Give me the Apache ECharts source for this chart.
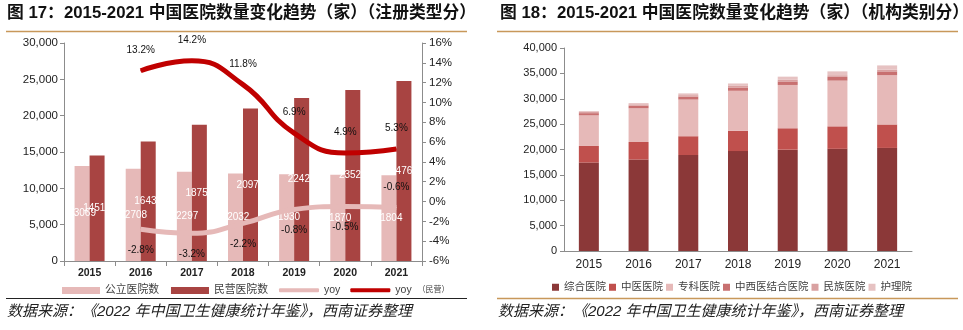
<!DOCTYPE html>
<html><head><meta charset="utf-8">
<script src="https://cdn.jsdelivr.net/npm/echarts@6/dist/echarts.min.js"></script>
<style>html,body{margin:0;padding:0;background:#fff}#c{width:963px;height:330px}</style>
</head><body><div id="c"></div>
<script>
// ---- data ----
const years = ['2015','2016','2017','2018','2019','2020','2021'];
const publicHosp = [13069,12708,12297,12032,11930,11870,11804];
const privateHosp = [14518,16432,18759,20977,22424,23524,24766];
const publicYoy = [null,-2.8,-3.2,-2.2,-0.8,-0.5,-0.6];
const privateYoy = [null,13.2,14.2,11.8,6.9,4.9,5.3];
const publicYoyLabelSide = ['bottom','bottom','bottom','bottom','bottom','bottom','top'];
const general = [17430,18020,18921,19693,19963,20133,20307];
const tcm = [3267,3462,3695,3977,4221,4426,4630];
const specialized = [6023,6642,7220,7900,8531,9021,9699];
const integrated = [446,510,587,650,699,732,756];
const ethnic = [253,266,284,312,312,324,329];
const nursing = [168,240,349,477,628,758,849];
const leftCountTicks = [0,5000,10000,15000,20000,25000,30000];
const leftPctTicks = [-6,-4,-2,0,2,4,6,8,10,12,14,16];
const rightCountTicks = [0,5000,10000,15000,20000,25000,30000,35000,40000];

const FF = '"Liberation Sans", Arial, "Noto Sans CJK SC", sans-serif';
const CJK = '"Liberation Sans", "Noto Sans CJK SC", sans-serif';
const fmtNum = v => String(v).replace(/\B(?=(\d{3})+(?!\d))/g, ',');
const axisLineStyle = {lineStyle:{color:'#8c8c8c', width:1}};

const chart = echarts.init(document.getElementById('c'), null, {renderer:'canvas'});
const barLabel = {show:true, position:'inside', color:'#fff', fontSize:10, fontFamily:FF};
const stackNames = ['综合医院','中医医院','专科医院','中西医结合医院','民族医院','护理院'];
const stackData = [general, tcm, specialized, integrated, ethnic, nursing];
const stackColors = ['#8B3838','#C0504D','#E6B9B8','#C87070','#D9A1A1','#E6C2C2'];

const option = {
  animation:false,
  textStyle:{fontFamily:FF},
  grid:[
    {left:64, right:541, top:43, bottom:69, containLabel:false},
    {left:564, right:51, top:48, bottom:79, containLabel:false}
  ],
  xAxis:[
    {type:'category', gridIndex:0, data:years, boundaryGap:true,
     axisLine:axisLineStyle, axisTick:{show:true, alignWithLabel:false, length:5, lineStyle:{color:'#8c8c8c'}},
     axisLabel:{color:'#222', fontSize:10.5, fontWeight:'bold', margin:7, fontFamily:FF}},
    {type:'category', gridIndex:1, data:years, boundaryGap:true,
     axisLine:axisLineStyle, axisTick:{show:false},
     axisLabel:{color:'#222', fontSize:12, margin:8, fontFamily:FF}}
  ],
  yAxis:[
    {type:'value', gridIndex:0, position:'left', min:leftCountTicks[0], max:leftCountTicks[leftCountTicks.length-1],
     interval:leftCountTicks[1]-leftCountTicks[0], splitLine:{show:false},
     axisLine:{show:true, lineStyle:{color:'#8c8c8c'}}, axisTick:{show:true, length:4, lineStyle:{color:'#8c8c8c'}},
     axisLabel:{color:'#222', fontSize:11.5, margin:6, formatter:v=>fmtNum(v)}},
    {type:'value', gridIndex:0, position:'right', min:leftPctTicks[0], max:leftPctTicks[leftPctTicks.length-1],
     interval:leftPctTicks[1]-leftPctTicks[0], splitLine:{show:false},
     axisLine:{show:true, lineStyle:{color:'#8c8c8c'}}, axisTick:{show:true, length:4, lineStyle:{color:'#8c8c8c'}},
     axisLabel:{color:'#222', fontSize:11.5, margin:7, formatter:'{value}%'}},
    {type:'value', gridIndex:1, position:'left', min:rightCountTicks[0], max:rightCountTicks[rightCountTicks.length-1],
     interval:rightCountTicks[1]-rightCountTicks[0], splitLine:{show:false},
     axisLine:{show:true, lineStyle:{color:'#8c8c8c'}}, axisTick:{show:true, length:4, lineStyle:{color:'#8c8c8c'}},
     axisLabel:{color:'#222', fontSize:11, margin:7, formatter:v=>fmtNum(v)}}
  ],
  legend:[
    {left:57, top:280, itemWidth:38, itemHeight:7, itemGap:12, icon:'rect',
     data:['公立医院数','民营医院数'],
     textStyle:{fontSize:10.8, color:'#404040', fontFamily:CJK}},
    {left:274, top:280, itemWidth:40, itemHeight:4, itemGap:10, icon:'roundRect',
     data:['yoy','yoy（民营）'],
     formatter: n => n === 'yoy（民营）' ? 'yoy  {s|（民营）}' : n,
     textStyle:{fontSize:10.5, color:'#404040', fontFamily:CJK, rich:{s:{fontSize:8, color:'#404040', fontFamily:CJK}}}},
    {left:547, top:277, itemWidth:7, itemHeight:7, itemGap:3, icon:'rect',
     data:stackNames,
     textStyle:{fontSize:10.5, color:'#404040', fontFamily:CJK}}
  ],
  series:[
    {name:'公立医院数', type:'bar', xAxisIndex:0, yAxisIndex:0, data:publicHosp, barWidth:15, barGap:'0%',
     itemStyle:{color:'#E6B9B8'}, label:barLabel, z:2},
    {name:'民营医院数', type:'bar', xAxisIndex:0, yAxisIndex:0, data:privateHosp, barWidth:15, barGap:'0%',
     itemStyle:{color:'#A84442'}, label:barLabel, z:2},
    {name:'yoy', type:'line', xAxisIndex:0, yAxisIndex:1, smooth:true,
     data:publicYoy.map((v,i)=>({value:v, label:{position:publicYoyLabelSide[i]}})),
     symbol:'circle', symbolSize:1, showSymbol:true, connectNulls:false,
     lineStyle:{color:'#E6B9B8', width:5}, itemStyle:{color:'#E6B9B8'},
     label:{show:true, distance:15, color:'#111', fontSize:10, formatter:p=>p.value==null?'':p.value.toFixed(1)+'%'}, z:5},
    {name:'yoy（民营）', type:'line', xAxisIndex:0, yAxisIndex:1, smooth:true, data:privateYoy,
     symbol:'circle', symbolSize:1, showSymbol:true,
     lineStyle:{color:'#C00000', width:5}, itemStyle:{color:'#C00000'},
     label:{show:true, position:'top', distance:15, color:'#111', fontSize:10, formatter:p=>p.value==null?'':p.value.toFixed(1)+'%'}, z:5}
  ].concat(stackNames.map((n,i)=>({
     name:n, type:'bar', xAxisIndex:1, yAxisIndex:2, stack:'total', data:stackData[i], barWidth:20,
     itemStyle:{color:stackColors[i]}
  }))),
  graphic:[
    {type:'text', left:7, top:5, style:{text:'图 17：2015-2021 中国医院数量变化趋势（家）（注册类型分）', font:'bold 16.8px '+CJK, fill:'#111'}},
    {type:'text', left:500, top:5, style:{text:'图 18：2015-2021 中国医院数量变化趋势（家）（机构类别分）', font:'bold 16.8px '+CJK, fill:'#111'}},
    {type:'line', shape:{x1:6, y1:31.5, x2:467, y2:31.5}, style:{stroke:'#C8985A', lineWidth:1.5}},
    {type:'line', shape:{x1:497, y1:31.5, x2:958, y2:31.5}, style:{stroke:'#C8985A', lineWidth:1.5}},
    {type:'line', shape:{x1:6, y1:298.5, x2:467, y2:298.5}, style:{stroke:'#222', lineWidth:1.2}},
    {type:'line', shape:{x1:497, y1:298.5, x2:958, y2:298.5}, style:{stroke:'#C8985A', lineWidth:1.5}},
    {type:'text', left:7, top:304, style:{text:'数据来源：《2022 年中国卫生健康统计年鉴》，西南证券整理', font:'italic 15px '+CJK, fill:'#222'}},
    {type:'text', left:498, top:304, style:{text:'数据来源：《2022 年中国卫生健康统计年鉴》，西南证券整理', font:'italic 15px '+CJK, fill:'#222'}}
  ]
};
chart.setOption(option);
</script>
</body></html>
